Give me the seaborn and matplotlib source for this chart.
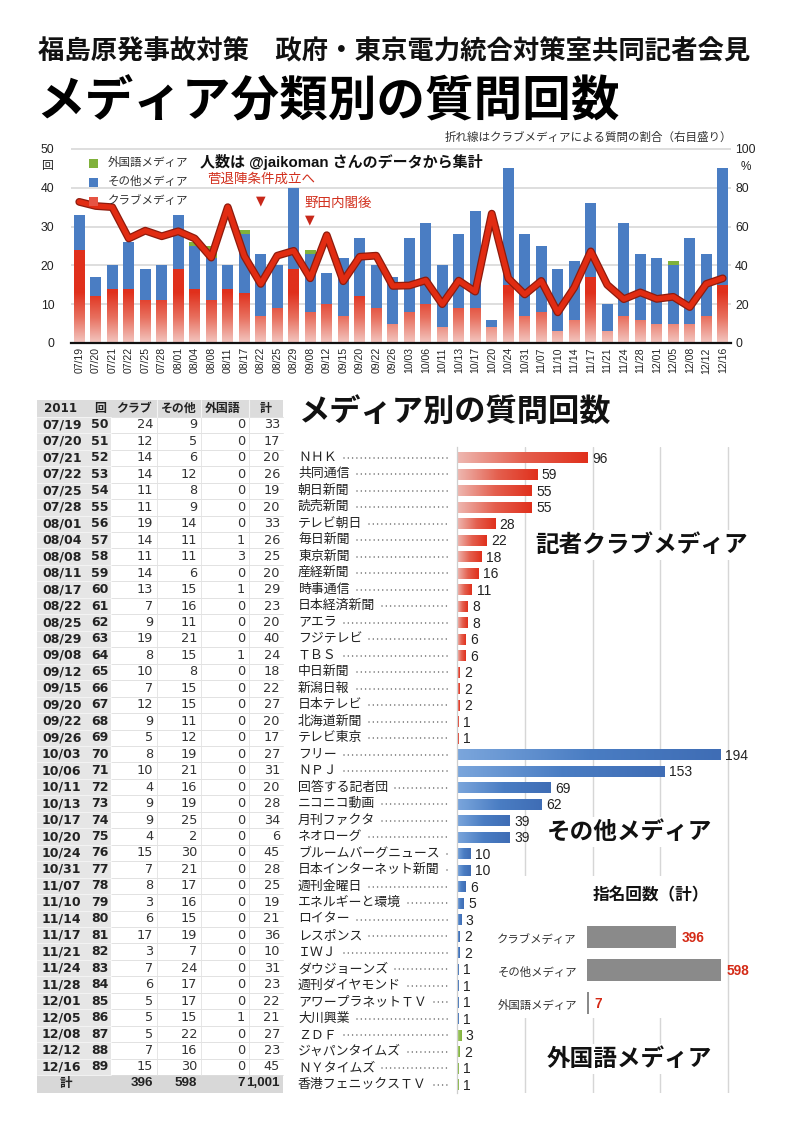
import numpy as np
import pandas as pd
import matplotlib
matplotlib.use("Agg")
import matplotlib.pyplot as plt
import matplotlib.patheffects as pe
from matplotlib.patches import Rectangle
from matplotlib.lines import Line2D
from matplotlib.colors import LinearSegmentedColormap
from matplotlib.transforms import Affine2D, ScaledTranslation, blended_transform_factory
import seaborn as sns

# 記者会見ごとの質問回数（表）
dates = ["07/19", "07/20", "07/21", "07/22", "07/25", "07/28", "08/01", "08/04", "08/08", "08/11",
         "08/17", "08/22", "08/25", "08/29", "09/08", "09/12", "09/15", "09/20", "09/22", "09/26",
         "10/03", "10/06", "10/11", "10/13", "10/17", "10/20", "10/24", "10/31", "11/07", "11/10",
         "11/14", "11/17", "11/21", "11/24", "11/28", "12/01", "12/05", "12/08", "12/12", "12/16"]
kai = [50, 51, 52, 53, 54, 55, 56, 57, 58, 59, 60, 61, 62, 63, 64, 65, 66, 67, 68, 69,
       70, 71, 72, 73, 74, 75, 76, 77, 78, 79, 80, 81, 82, 83, 84, 85, 86, 87, 88, 89]
club = [24, 12, 14, 14, 11, 11, 19, 14, 11, 14, 13, 7, 9, 19, 8, 10, 7, 12, 9, 5,
        8, 10, 4, 9, 9, 4, 15, 7, 8, 3, 6, 17, 3, 7, 6, 5, 5, 5, 7, 15]
other = [9, 5, 6, 12, 8, 9, 14, 11, 11, 6, 15, 16, 11, 21, 15, 8, 15, 15, 11, 12,
         19, 21, 16, 19, 25, 2, 30, 21, 17, 16, 15, 19, 7, 24, 17, 17, 15, 22, 16, 30]
foreign = [0, 0, 0, 0, 0, 0, 0, 1, 3, 0, 1, 0, 0, 0, 1, 0, 0, 0, 0, 0,
           0, 0, 0, 0, 0, 0, 0, 0, 0, 0, 0, 0, 0, 0, 0, 0, 1, 0, 0, 0]

# メディア別の質問回数
club_names = ["ＮＨＫ", "共同通信", "朝日新聞", "読売新聞", "テレビ朝日", "毎日新聞", "東京新聞", "産経新聞",
              "時事通信", "日本経済新聞", "アエラ", "フジテレビ", "ＴＢＳ", "中日新聞", "新潟日報",
              "日本テレビ", "北海道新聞", "テレビ東京"]
club_counts = [96, 59, 55, 55, 28, 22, 18, 16, 11, 8, 8, 6, 6, 2, 2, 2, 1, 1]
other_names = ["フリー", "ＮＰＪ", "回答する記者団", "ニコニコ動画", "月刊ファクタ", "ネオローグ",
               "ブルームバーグニュース", "日本インターネット新聞", "週刊金曜日", "エネルギーと環境",
               "ロイター", "レスポンス", "ＩＷＪ", "ダウジョーンズ", "週刊ダイヤモンド",
               "アワープラネットＴＶ", "大川興業"]
other_counts = [194, 153, 69, 62, 39, 39, 10, 10, 6, 5, 3, 2, 2, 1, 1, 1, 1]
foreign_names = ["ＺＤＦ", "ジャパンタイムズ", "ＮＹタイムズ", "香港フェニックスＴＶ"]
foreign_counts = [3, 2, 1, 1]

group_labels = ["クラブメディア", "その他メディア", "外国語メディア"]
group_totals = [396, 598, 7]

RED = "#e0301c"
PINK = "#f3c7c1"
BLUE = "#4a7dc3"
BLUE_L = "#7ba6dc"
GREEN = "#80b13b"
LINE = "#e12c12"
ANNO = "#d2301e"

sns.set_theme(style="white")
plt.rcParams["font.family"] = ["Liberation Sans", "Noto Sans CJK JP", "DejaVu Sans"]

W, H = 800, 1132
fig = plt.figure(figsize=(W / 100, H / 100), dpi=100)
fig.patch.set_facecolor("white")
pxT = Affine2D().scale(1 / W, -1 / H).translate(0, 1) + fig.transFigure


def box(x0, y0, x1, y1):
    return [x0 / W, 1 - y1 / H, (x1 - x0) / W, (y1 - y0) / H]


red_v = LinearSegmentedColormap.from_list("rv", [PINK, "#e8705f", RED])
red_h = LinearSegmentedColormap.from_list("rh", ["#eeb8b1", "#e4604f", RED])
blue_h = LinearSegmentedColormap.from_list("bh", [BLUE_L, BLUE, "#3f6db5"])
green_h = LinearSegmentedColormap.from_list("gh", ["#a7cf6f", GREEN])

# ---------------- titles ----------------
fig.text(38, 52, "福島原発事故対策　政府・東京電力統合対策室共同記者会見", transform=pxT,
         fontsize=19, weight="bold", va="center", ha="left", color="#111")
fig.text(36, 103, "メディア分類別の質問回数", transform=pxT,
         fontsize=35, weight="bold", va="center", ha="left", color="#000")
fig.text(732, 138, "折れ線はクラブメディアによる質問の割合（右目盛り）", transform=pxT,
         fontsize=8.3, va="center", ha="right", color="#333")

# ---------------- top stacked chart ----------------
df = pd.DataFrame({"date": dates, "club": club, "other": other, "foreign": foreign})
df["club_other"] = df["club"] + df["other"]
df["total"] = df["club_other"] + df["foreign"]
df["ratio"] = df["club"] / df["total"] * 100

ax1 = fig.add_axes(box(71, 147, 731, 343))
sns.barplot(data=df, x="date", y="total", color=GREEN, saturation=1, width=0.65,
            errorbar=None, linewidth=0, ax=ax1, zorder=2)
sns.barplot(data=df, x="date", y="club_other", color=BLUE, saturation=1, width=0.65,
            errorbar=None, linewidth=0, ax=ax1, zorder=2)
n0 = len(ax1.patches)
sns.barplot(data=df, x="date", y="club", color=RED, saturation=1, width=0.65,
            errorbar=None, linewidth=0, ax=ax1, zorder=2)
for p in ax1.patches[n0:]:
    x0, w, h = p.get_x(), p.get_width(), p.get_height()
    g = np.clip(np.linspace(0, h, 120) / 13.0, 0, 1).reshape(-1, 1)
    im = ax1.imshow(g, cmap=red_v, vmin=0, vmax=1, extent=(x0, x0 + w, 0, h), origin="lower",
                    aspect="auto", zorder=2.5, interpolation="bilinear")
    im.set_clip_path(p)

ax1.set_xlim(-0.5, len(dates) - 0.5)
ax1.set_ylim(0, 50.5)
ax1.set_yticks([0, 10, 20, 30, 40, 50])
ax1.set_xticks(range(len(dates)))
ax1.set_xticklabels(dates, rotation=90)
ax1.tick_params(axis="x", length=0, pad=3, labelsize=7.5, labelcolor="#222")
ax1.tick_params(axis="y", length=0, pad=12, labelsize=8.8, labelcolor="#222")
ax1.set_axisbelow(True)
ax1.yaxis.grid(True, color="#d4d4d4", lw=1.1)
ax1.xaxis.grid(False)
for s in ["left", "right", "top"]:
    ax1.spines[s].set_visible(False)
ax1.spines["bottom"].set_color("#111")
ax1.spines["bottom"].set_linewidth(1.6)
ax1.set_xlabel("")
ax1.set_ylabel("")

ax1r = ax1.twinx()
sns.lineplot(x=np.arange(len(dates)), y=df["ratio"].values, ax=ax1r, color=LINE, lw=3.8,
             path_effects=[pe.Stroke(linewidth=5.6, foreground="#8e1b0d"), pe.Normal()])
ax1r.set_ylim(0, 101)
ax1r.set_yticks([0, 20, 40, 60, 80, 100])
ax1r.tick_params(axis="y", length=0, pad=3, labelsize=8.8, labelcolor="#222")
ax1r.grid(False)
for s in ax1r.spines.values():
    s.set_visible(False)
ax1r.set_ylabel("")
ax1.set_xlim(-0.5, len(dates) - 0.5)

fig.text(47, 166, "回", transform=pxT, fontsize=8.5, ha="center", va="center", color="#222")
fig.text(746, 167, "%", transform=pxT, fontsize=8.5, ha="center", va="center", color="#222")

# legend
for lab, col, y in [("外国語メディア", GREEN, 163), ("その他メディア", BLUE, 182), ("クラブメディア", "#e65443", 201)]:
    fig.add_artist(Rectangle((89, y - 4.5), 9, 9, transform=pxT, fc=col, ec="none"))
    fig.text(108, y, lab, transform=pxT, fontsize=8.3, va="center", ha="left", color="#333")
fig.text(200, 162, "人数は @jaikoman さんのデータから集計", transform=pxT,
         fontsize=10.8, weight="bold", va="center", ha="left", color="#111")

bt = blended_transform_factory(ax1.transData, pxT)
i_kan = dates.index("08/22")
i_noda = dates.index("09/08")
ax1.text(i_kan, 180, "菅退陣条件成立へ", transform=bt, ha="center", va="center",
         fontsize=9.7, color=ANNO, clip_on=False)
ax1.text(i_kan, 201, "▼", transform=bt, ha="center", va="center", fontsize=9,
         color="#c8281a", family="DejaVu Sans", clip_on=False)
ax1.text(i_noda, 204, "野田内閣後", transform=bt + ScaledTranslation(-0.06, 0, fig.dpi_scale_trans),
         ha="left", va="center", fontsize=9.7, color=ANNO, clip_on=False)
ax1.text(i_noda, 220, "▼", transform=bt, ha="center", va="center", fontsize=9,
         color="#c8281a", family="DejaVu Sans", clip_on=False)

# ---------------- table ----------------
tx0, tcol, tx1 = 37, 111, 283
rh = 16.46
r0 = 425.0
hy = 408.5
n = len(dates)
ty = r0 + rh * n
fig.add_artist(Rectangle((tx0, hy - 8.5), tx1 - tx0, 17, transform=pxT, fc="#dcdcdc", ec="none"))
fig.add_artist(Rectangle((tx0, r0 - rh / 2), tcol - tx0, rh * n, transform=pxT, fc="#e6e6e6", ec="none"))
fig.add_artist(Rectangle((tx0, ty - rh / 2), tx1 - tx0, rh + 1, transform=pxT, fc="#d8d8d8", ec="none"))
for i in range(n + 1):
    y = r0 - rh / 2 + i * rh
    fig.add_artist(Line2D([tcol, tx1], [y, y], transform=pxT, color="#dddddd", lw=0.6))
    fig.add_artist(Line2D([tx0, tcol], [y, y], transform=pxT, color="#f6f6f6", lw=0.6))
for x in (157, 201, 249):
    fig.add_artist(Line2D([x, x], [r0 - rh / 2, ty - rh / 2], transform=pxT, color="#e2e2e2", lw=0.6))
    fig.add_artist(Line2D([x, x], [hy - 8.5, hy + 8.5], transform=pxT, color="#f4f4f4", lw=0.8))

tab_font = ["DejaVu Sans", "Noto Sans CJK JP"]
for txt, x in [("2011", 61), ("回", 100), ("クラブ", 134), ("その他", 179), ("外国語", 223), ("計", 266)]:
    fig.text(x, hy, txt, transform=pxT, ha="center", va="center", fontsize=8.6,
             weight="bold", family=tab_font, color="#222")
for i in range(n):
    y = r0 + i * rh
    fig.text(42, y, dates[i], transform=pxT, ha="left", va="center", fontsize=9,
             weight="bold", family=tab_font, color="#222")
    fig.text(91, y, str(kai[i]), transform=pxT, ha="left", va="center", fontsize=9,
             weight="bold", family=tab_font, color="#222")
    vals = [club[i], other[i], foreign[i], club[i] + other[i] + foreign[i]]
    for v, x in zip(vals, (153, 197, 245, 280)):
        fig.text(x, y, str(v), transform=pxT, ha="right", va="center", fontsize=9.3,
                 family=tab_font, color="#333")
fig.text(66, ty, "計", transform=pxT, ha="center", va="center", fontsize=9,
         weight="bold", family=tab_font, color="#222")
sums = [sum(club), sum(other), sum(foreign), sum(club) + sum(other) + sum(foreign)]
for v, x in zip(sums, (153, 197, 245, 280)):
    fig.text(x, ty, f"{v:,}", transform=pxT, ha="right", va="center", fontsize=9.6,
             weight="bold", family=["Liberation Sans", "DejaVu Sans"], color="#222")

# ---------------- media bar chart ----------------
fig.text(299, 413, "メディア別の質問回数", transform=pxT, fontsize=22.5, weight="bold",
         va="center", ha="left", color="#111")

names = club_names + other_names + foreign_names
counts = club_counts + other_counts + foreign_counts
groups = (["club"] * len(club_names) + ["other"] * len(other_names)
          + ["foreign"] * len(foreign_names))
med = pd.DataFrame({"name": names, "count": counts, "group": groups})

ax2 = fig.add_axes(box(456.7, 447, 735, 1093))
sns.barplot(data=med, x="count", y="name", hue="group", orient="h", dodge=False,
            palette={"club": RED, "other": BLUE, "foreign": GREEN}, saturation=1,
            width=0.67, linewidth=0, legend=False, ax=ax2, zorder=2)
cmaps = {"club": red_h, "other": blue_h, "foreign": green_h}
for p in list(ax2.patches):
    w = p.get_width()
    if not np.isfinite(w) or w <= 0:
        continue
    y0, h = p.get_y(), p.get_height()
    idx = int(round(y0 + h / 2))
    g = np.linspace(0, 1, 128).reshape(1, -1)
    im = ax2.imshow(g, cmap=cmaps[groups[idx]], vmin=0, vmax=1, extent=(0, w, y0 + h, y0),
                    aspect="auto", zorder=2.5, interpolation="bilinear")
    im.set_clip_path(p)
ax2.set_xlim(0, (735 - 456.7) / 1.358)
ax2.set_ylim(len(names) - 0.5, -0.64)
ax2.set_xticks([50, 100, 150, 200])
ax2.set_xticklabels([])
ax2.set_yticks([])
ax2.tick_params(length=0)
ax2.set_axisbelow(True)
ax2.xaxis.grid(True, color="#d6d6d6", lw=1)
ax2.yaxis.grid(False)
for s in ["right", "top", "bottom"]:
    ax2.spines[s].set_visible(False)
ax2.spines["left"].set_color("#cfcfcf")
ax2.spines["left"].set_linewidth(0.9)
ax2.set_xlabel("")
ax2.set_ylabel("")

for i, v in enumerate(counts):
    ax2.annotate(str(v), xy=(v, i), xytext=(5, -1), textcoords="offset pixels",
                 ha="left", va="center", fontsize=10, color="#222")

nt = blended_transform_factory(pxT, ax2.transData)
name_texts = []
for i, nm in enumerate(names):
    t = ax2.text(298, i, nm, transform=nt, ha="left", va="center", fontsize=9.3,
                 color="#222", clip_on=False)
    name_texts.append(t)

fig.canvas.draw()
rend = fig.canvas.get_renderer()
for i, t in enumerate(name_texts):
    x_end = t.get_window_extent(renderer=rend).x1 + 7
    if x_end < 448:
        ax2.add_line(Line2D([x_end, 450], [i, i], transform=nt, color="#555", lw=1.1,
                            linestyle=(0, (0.01, 2.8)), dash_capstyle="round", clip_on=False))

for txt, y in [("記者クラブメディア", 545), ("その他メディア", 832), ("外国語メディア", 1059)]:
    fig.text(535 if y == 545 else 547, y, txt, transform=pxT, fontsize=17, weight="bold",
             va="center", ha="left", color="#111",
             bbox=dict(fc="white", ec="none", pad=2.5))

# ---------------- inset: 指名回数（計） ----------------
k = 134 / 598
ax3 = fig.add_axes(box(490, 876, 724, 1018))
sns.barplot(x=group_totals, y=group_labels, orient="h", color="#8a8a8a", saturation=1,
            width=0.64, linewidth=0, ax=ax3)
ax3.set_xlim(-(587 - 490) / k, (724 - 587) / k)
ax3.set_ylim((1018 - 937) / 33, -(937 - 876) / 33)
ax3.set_facecolor("white")
ax3.set_xticks([])
ax3.set_yticks([])
for s in ax3.spines.values():
    s.set_visible(False)
ax3.set_xlabel("")
ax3.set_ylabel("")
for i, (lab, v) in enumerate(zip(group_labels, group_totals)):
    ax3.annotate(lab, xy=(0, i), xytext=(-10, -2), textcoords="offset pixels",
                 ha="right", va="center", fontsize=8.2, color="#333")
    ax3.annotate(str(v), xy=(v, i), xytext=(6, -1), textcoords="offset pixels",
                 ha="left", va="center", fontsize=9.8, weight="bold", color="#d42a16",
                 annotation_clip=False)
fig.text(651, 895, "指名回数（計）", transform=pxT, fontsize=12, weight="bold",
         ha="center", va="center", color="#111")

fig.savefig("out.png", dpi=100)
